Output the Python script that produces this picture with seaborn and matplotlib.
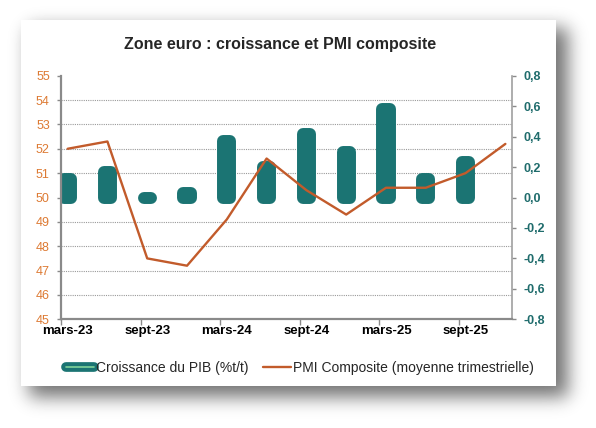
import numpy as np
import pandas as pd
import seaborn as sns
import matplotlib
matplotlib.use("Agg")
import matplotlib.pyplot as plt
from matplotlib.lines import Line2D
from matplotlib.patches import Rectangle
from matplotlib.ticker import MultipleLocator, FuncFormatter

# donnees (trimestres mars-23 -> dec-25)
quarters = pd.date_range("2023-03-01", periods=12, freq="3MS")
pmi = [52.0, 52.3, 47.5, 47.2, 49.1, 51.6, 50.3, 49.3, 50.4, 50.4, 51.0, 52.2]
gdp = [0.12, 0.17, 0.0, 0.03, 0.37, 0.20, 0.42, 0.30, 0.58, 0.12, 0.23]
tick_labels = ["mars-23", "sept-23", "mars-24", "sept-24", "mars-25", "sept-25"]

TEAL = "#1b7473"
BROWN = "#c25b2b"
ORANGE = "#dd7a33"
GREY = "#8a8a8a"

sns.set_style("white")
plt.rcParams["font.family"] = ["Liberation Sans", "DejaVu Sans"]

# mois depuis mars-23
months = (quarters.year - 2023) * 12 + quarters.month - 3
df_pmi = pd.DataFrame({"m": months, "pmi": pmi})
df_gdp = pd.DataFrame({"m": months[:len(gdp)], "gdp": gdp})

W, H = 596, 428
fig = plt.figure(figsize=(W / 100, H / 100), dpi=100)
fig.patch.set_facecolor("white")

# fond : cadre blanc avec ombre portee
bg = fig.add_axes([0, 0, 1, 1], zorder=-10)
mask = np.zeros((H, W))
mask[28:397, 29:568] = 1.0
xs = np.arange(-30, 31)
k = np.exp(-xs ** 2 / (2 * 9.0 ** 2))
k /= k.sum()
blur = np.apply_along_axis(lambda r: np.convolve(r, k, "same"), 1, mask)
blur = np.apply_along_axis(lambda c: np.convolve(c, k, "same"), 0, blur)
bg.imshow(1 - 0.55 * blur, cmap="gray", vmin=0, vmax=1, extent=(0, W, H, 0), aspect="auto")
bg.add_patch(Rectangle((21, 20), 535, 366, facecolor="white", edgecolor="none"))
bg.set_xlim(0, W)
bg.set_ylim(H, 0)
bg.axis("off")

# axes des barres (echelle de droite)
ax_bar = fig.add_axes([61 / W, 1 - 319.3 / H, 451 / W, 243.6 / H])
sns.barplot(data=df_gdp, x="m", y="gdp", native_scale=True, width=0.18,
            color=TEAL, saturation=1, edgecolor=TEAL, linewidth=8.6,
            joinstyle="round", ax=ax_bar)
for p in ax_bar.patches:
    p.set_joinstyle("round")
    p.set_capstyle("round")
ax_bar.set_ylim(-0.8, 0.8)
ax_bar.set_xlim(-0.5, 33.5)
ax_bar.set_xlabel("")
ax_bar.set_ylabel("")

# axe du PMI (echelle de gauche)
ax_line = ax_bar.twinx()
sns.lineplot(data=df_pmi, x="m", y="pmi", color=BROWN, linewidth=1.7, ax=ax_line)
ax_line.set_ylim(45, 55)
ax_line.set_yticks(range(45, 56))
ax_line.yaxis.tick_left()
ax_line.tick_params(axis="y", left=True, right=False, length=3, width=1, color=GREY,
                    labelcolor=ORANGE, labelsize=9, pad=5)
ax_line.set_xlim(-0.5, 33.5)
ax_line.set_xlabel("")
ax_line.set_ylabel("")
for s in ["top", "right", "bottom"]:
    ax_line.spines[s].set_visible(False)
ax_line.spines["left"].set_color(GREY)
ax_line.spines["left"].set_linewidth(1.6)

# echelle de droite (apres twinx qui remet les graduations a gauche)
ax_bar.yaxis.tick_right()
ax_bar.set_yticks(np.arange(-0.8, 0.81, 0.2))
ax_bar.yaxis.set_major_formatter(FuncFormatter(lambda v, _: f"{v:.1f}".replace(".", ",").replace("-0,0", "0,0")))
ax_bar.yaxis.set_minor_locator(MultipleLocator(0.16))
ax_bar.grid(which="minor", axis="y", color="#9a9a9a", linestyle=(0, (1, 1)), linewidth=0.8)
ax_bar.set_axisbelow(True)
ax_bar.tick_params(axis="y", which="major", left=False, right=True, length=3, width=1,
                   color=GREY, labelleft=False, labelright=True,
                   labelcolor="#1f6c6c", labelsize=9, pad=5)
ax_bar.tick_params(axis="y", which="minor", left=False, right=False, length=0)
for t in ax_bar.get_yticklabels():
    t.set_fontweight("bold")

ax_bar.set_xticks(np.arange(-0.5, 33.5, 6))
ax_bar.set_xticklabels([])
ax_bar.set_xticks(np.arange(0, 33, 6), minor=True)
ax_bar.set_xticklabels(tick_labels, minor=True, fontweight="bold", fontsize=9.5)
ax_bar.tick_params(axis="x", which="major", bottom=True, length=4, width=1, color=GREY)
ax_bar.tick_params(axis="x", which="minor", bottom=True, length=0, pad=4, labelcolor="black")
for s in ["top", "left"]:
    ax_bar.spines[s].set_visible(False)
ax_bar.spines["right"].set_color("#a0a0a0")
ax_bar.spines["right"].set_linewidth(1.2)
ax_bar.spines["bottom"].set_color(GREY)
ax_bar.spines["bottom"].set_linewidth(1.6)

fig.text(280 / W, 1 - 45 / H, "Zone euro : croissance et PMI composite",
         ha="center", va="center", fontsize=11.5, fontweight="bold")

h_bar = (Line2D([], [], color=TEAL, linewidth=7, solid_capstyle="round"),
         Line2D([], [], color="#7fd39a", linewidth=1.2))
h_line = Line2D([], [], color=BROWN, linewidth=1.7)
fig.legend([h_bar, h_line],
           ["Croissance du PIB (%t/t)", "PMI Composite (moyenne trimestrielle)"],
           loc="center", bbox_to_anchor=(300 / W, 1 - 368 / H), ncol=2, frameon=False,
           fontsize=10, handlelength=2.0, handletextpad=0.2, columnspacing=1.0)

fig.savefig("out.png", dpi=100)
